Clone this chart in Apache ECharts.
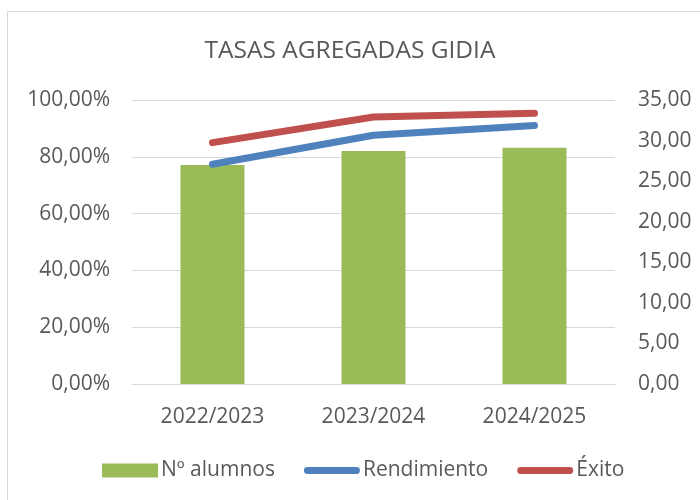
<!DOCTYPE html>
<html><head><meta charset="utf-8">
<script src="https://cdn.jsdelivr.net/npm/echarts@6/dist/echarts.min.js"></script>
<style>html,body{margin:0;padding:0;background:#fff}#c{width:700px;height:500px}</style>
</head><body><div id="c"></div>
<script>
const categories = ['2022/2023', '2023/2024', '2024/2025'];
const alumnos = [27.0, 28.7, 29.1];
const rendimiento = [0.774, 0.876, 0.910];
const exito = [0.850, 0.940, 0.953];
const leftTicks = [0, 0.2, 0.4, 0.6, 0.8, 1.0];
const rightTicks = [0, 5, 10, 15, 20, 25, 30, 35];

const FONT = '"Open Sans", "Noto Sans", sans-serif';
const TXT = '#595959';
const LINE_ICON = 'path://M3.5,0 H54.5 A3.5,3.5 0 0 1 54.5,7 H3.5 A3.5,3.5 0 0 1 3.5,0 Z';
const chart = echarts.init(document.getElementById('c'), null, {renderer: 'canvas'});
chart.setOption({
  animation: false,
  backgroundColor: '#fff',
  graphic: [{type: 'rect', shape: {x: 7.5, y: 11.5, width: 720, height: 520}, style: {fill: 'none', stroke: '#D9D9D9', lineWidth: 1}, silent: true}],
  title: {text: 'TASAS AGREGADAS GIDIA', left: 'center', top: 34, textStyle: {fontFamily: FONT, fontSize: 24.5, fontWeight: 'normal', color: TXT}},
  grid: {left: 132, right: 85, top: 100, bottom: 116},
  legend: {
    bottom: 14, left: 97, itemGap: 29, itemWidth: 56, itemHeight: 14, symbolKeepAspect: true,
    textStyle: {fontFamily: FONT, fontSize: 21, color: TXT, padding: [0,0,0,-2]},
    data: [{name: 'Nº alumnos', icon: 'rect'}, {name: 'Rendimiento', icon: LINE_ICON}, {name: 'Éxito', icon: LINE_ICON}]
  },
  xAxis: {type: 'category', data: categories,
    axisLine: {lineStyle: {color: '#D9D9D9'}}, axisTick: {show: false},
    axisLabel: {fontFamily: FONT, fontSize: 21, color: TXT, margin: 23}},
  yAxis: [
    {type: 'value', min: leftTicks[0], max: leftTicks[leftTicks.length-1], interval: 0.2,
     axisLabel: {fontFamily: FONT, fontSize: 21, color: TXT, margin: 22,
       formatter: v => (v*100).toFixed(2).replace('.', ',') + '%'},
     splitLine: {lineStyle: {color: '#D9D9D9', width: 1}}, axisLine: {show: false}, axisTick: {show: false}},
    {type: 'value', min: rightTicks[0], max: rightTicks[rightTicks.length-1], interval: 5, position: 'right',
     axisLabel: {fontFamily: FONT, fontSize: 21, color: TXT, margin: 23,
       formatter: v => v.toFixed(2).replace('.', ',')},
     splitLine: {show: false}, axisLine: {show: false}, axisTick: {show: false}}
  ],
  series: [
    {name: 'Nº alumnos', type: 'bar', yAxisIndex: 1, data: alumnos, barWidth: 64, itemStyle: {color: '#9BBB59'}},
    {name: 'Rendimiento', type: 'line', yAxisIndex: 0, data: rendimiento, symbol: 'none',
     lineStyle: {color: '#4F81BD', width: 7, cap: 'round', join: 'round'}, itemStyle: {color: '#4F81BD'}},
    {name: 'Éxito', type: 'line', yAxisIndex: 0, data: exito, symbol: 'none',
     lineStyle: {color: '#C0504D', width: 7, cap: 'round', join: 'round'}, itemStyle: {color: '#C0504D'}}
  ]
});
</script></body></html>
